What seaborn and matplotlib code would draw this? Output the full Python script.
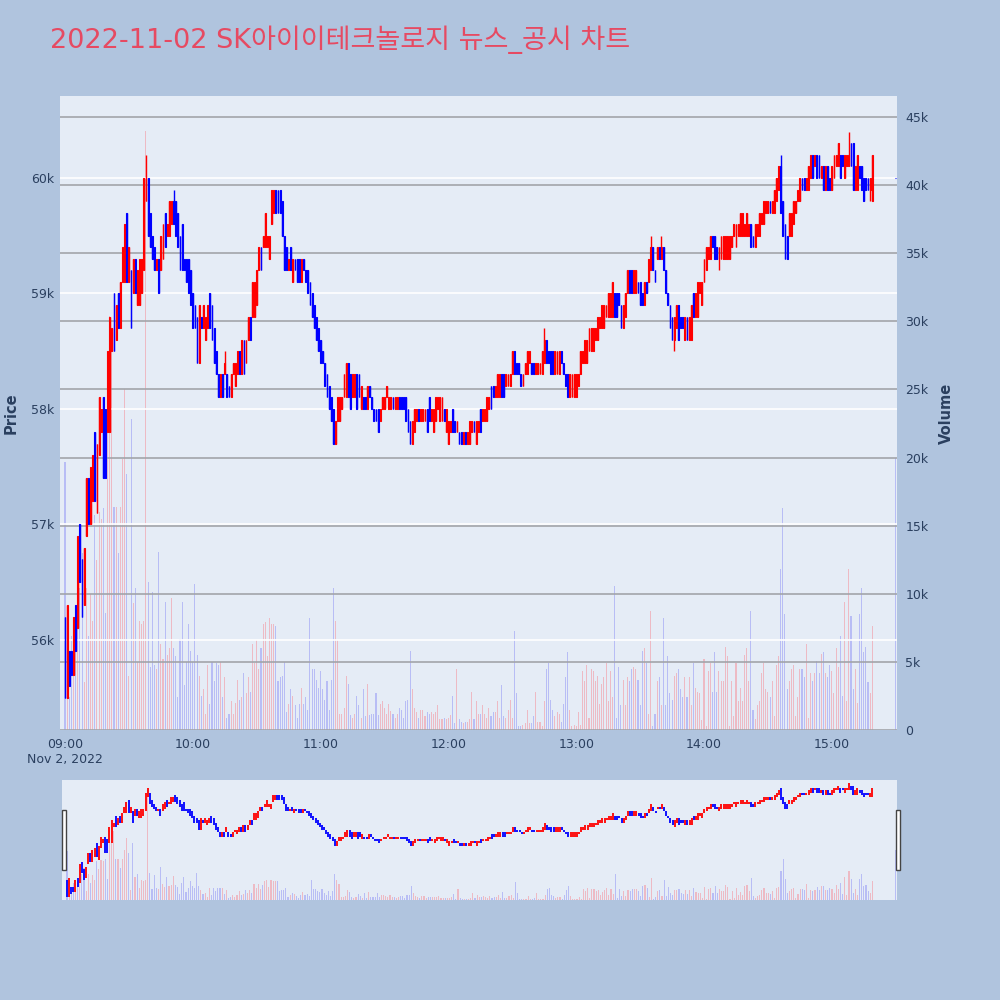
import numpy as np
import pandas as pd
import matplotlib
matplotlib.use("Agg")
import matplotlib.pyplot as plt
import matplotlib.patches as mpatches
import seaborn as sns

# ---------------- data (prices in units of 100 KRW, volume in thousands) ----------------
title_text = "2022-11-02 SK아이이테크놀로지 뉴스_공시 차트"
hour_labels = ["09:00\nNov 2, 2022", "10:00", "11:00", "12:00", "13:00", "14:00", "15:00"]
price_ticks_k = [56, 57, 58, 59, 60]
volume_ticks_k = [0, 5, 10, 15, 20, 25, 30, 35, 40, 45]

opens = [
    562,555,559,559,557,563,561,570,567,563,569,574,570,572,578,571,576,578,581,580,578,578,585,590,586,590,587,591,591,597,591,
    592,590,593,589,589,590,592,598,600,597,595,594,592,593,592,593,597,595,595,596,598,598,597,595,596,593,593,593,592,590,589,588,584,
    588,587,586,587,590,589,587,585,583,581,583,583,583,582,581,583,582,583,585,583,586,584,586,588,588,588,589,592,594,594,594,594,593,
    596,597,599,599,599,598,595,594,592,594,591,593,593,593,591,593,592,592,591,590,589,588,587,586,585,584,583,582,581,580,577,579,579,
    580,581,581,584,583,581,581,583,583,580,581,581,580,582,581,580,580,580,579,580,580,581,580,580,581,580,580,581,581,581,581,580,579,
    577,578,579,580,579,579,579,580,581,579,578,579,580,579,579,580,578,577,578,580,579,578,578,578,577,578,577,577,578,579,577,578,580,
    579,579,579,580,582,582,581,581,581,583,583,582,582,582,583,585,584,584,583,582,583,583,584,584,584,583,583,583,583,584,586,585,
    585,585,583,583,583,585,584,583,583,581,581,581,581,582,583,584,584,584,585,585,585,586,586,587,587,587,588,588,588,588,590,590,590,
    589,587,588,590,592,592,590,590,591,591,590,589,591,591,592,594,592,593,594,593,594,592,590,589,588,586,587,589,588,588,586,588,586,
    586,590,588,588,590,589,591,592,593,593,595,595,594,593,593,593,593,593,593,594,595,594,595,595,595,595,595,595,596,595,594,595,595,
    596,596,597,597,598,597,597,598,599,601,598,596,595,595,595,596,597,598,598,600,600,599,599,600,602,601,602,602,600,601,599,601,600,
    599,600,601,601,602,602,600,601,601,603,603,599,599,601,601,600,600,600,599,598,
    600,
]
closes = [
    555,563,556,557,562,559,569,565,562,568,574,570,575,576,572,577,581,580,574,574,585,588,587,585,589,587,591,594,596,591,594,
    587,593,590,592,593,593,600,600,595,594,593,592,593,590,595,596,594,596,598,598,596,595,594,592,592,592,591,590,589,587,587,584,589,
    587,589,588,589,587,586,584,583,581,583,581,584,581,581,583,584,584,585,583,586,583,586,588,586,591,591,592,594,592,595,597,595,595,
    599,599,597,597,597,595,592,592,593,592,593,592,591,591,593,592,591,590,589,588,587,586,585,584,584,582,581,580,579,577,579,581,581,
    581,583,584,581,580,583,583,580,581,582,580,580,582,581,580,579,579,578,580,581,581,582,581,581,580,581,581,580,580,580,579,578,577,
    579,580,580,579,580,580,580,578,579,580,580,581,581,581,581,579,580,579,579,578,578,579,577,577,578,577,578,579,579,578,579,579,578,
    580,580,581,581,580,581,582,583,583,581,581,583,583,583,585,583,583,583,582,583,584,585,585,583,583,584,584,584,585,586,584,584,
    583,583,585,585,585,584,583,582,581,583,583,583,583,583,585,585,586,586,587,587,587,587,588,588,589,589,589,590,590,591,588,588,589,
    587,589,590,592,590,590,592,592,590,589,589,591,590,593,594,592,591,594,593,594,592,590,589,587,586,588,589,586,587,587,588,586,588,
    589,588,590,591,591,591,593,594,594,595,594,593,593,594,595,595,595,595,595,595,596,596,596,597,597,596,597,596,594,594,596,596,597,
    597,598,598,598,597,598,599,600,601,597,595,593,593,597,597,598,598,599,600,599,599,600,601,602,600,602,600,600,601,599,601,599,599,
    601,602,602,603,600,601,602,602,602,601,599,601,602,600,599,598,599,599,600,602,
    600,
]
# wick extremes that reach beyond the candle bodies (minute index, price)
wick_high_minutes = [38, 51, 75, 225, 275, 280, 336, 363, 368]
wick_high_values = [602, 599, 585, 587, 595, 595, 602, 603, 604]
wick_low_minutes = [286, 307, 378]
wick_low_values = [585, 592, 598]

volumes_k = [
    19.7,3.0,2.4,6.9,4.2,7.8,8.4,10.4,13.0,3.5,10.4,6.9,10.0,8.0,15.8,12.5,16.0,15.5,16.3,8.6,22.7,30.4,27.8,16.4,16.4,13.0,16.4,19.9,25.0,18.8,4.0,
    22.8,9.3,10.4,5.0,8.0,7.8,8.0,44.0,10.9,4.6,10.1,4.8,4.5,13.1,6.3,5.2,9.4,5.5,6.0,9.7,6.0,5.4,2.4,6.7,9.4,3.3,5.0,7.8,5.8,5.0,10.7,5.5,4.0,
    2.5,3.0,1.2,4.8,1.9,5.0,3.6,4.9,4.8,5.0,2.4,3.9,0.9,1.2,2.1,1.2,2.0,3.7,2.2,2.4,4.2,2.7,3.9,2.8,6.3,4.9,6.6,4.5,6.0,7.8,7.9,5.4,8.2,
    7.8,7.8,7.6,3.6,3.9,4.0,5.0,1.3,1.9,3.0,2.5,1.8,0.9,1.9,3.1,1.9,2.4,1.5,8.2,4.5,4.5,3.7,3.1,4.3,3.0,2.2,3.6,1.5,3.7,10.4,8.0,6.6,1.2,
    1.2,1.6,4.0,3.4,1.1,0.9,1.2,2.5,1.8,0.9,3.0,1.0,3.4,1.1,1.2,1.2,2.7,1.1,1.9,2.1,1.6,1.2,1.9,1.4,1.2,0.9,1.2,1.6,1.5,0.9,2.1,2.2,5.8,
    3.0,1.6,1.3,0.9,1.5,1.5,1.0,1.3,1.2,1.3,1.2,1.3,1.8,0.8,0.8,0.9,0.8,0.9,1.1,2.5,0.5,4.5,0.8,0.6,0.5,0.6,0.6,0.8,2.8,0.8,2.1,1.2,1.2,
    1.8,1.2,0.9,1.6,1.0,1.3,1.3,2.1,0.9,3.3,1.0,0.9,1.5,2.2,0.9,7.3,2.7,0.3,0.3,0.4,0.5,1.5,0.5,0.5,1.0,2.8,0.6,0.6,0.3,2.1,4.5,4.9,
    2.2,1.5,1.0,1.3,1.2,0.6,1.9,3.9,5.7,1.5,0.3,0.4,0.3,1.3,0.4,4.3,3.6,4.8,0.9,4.5,4.3,3.6,4.0,1.9,3.4,3.9,4.9,2.1,4.3,2.4,10.6,0.9,4.6,
    1.8,3.7,1.8,3.9,3.6,4.5,4.6,4.5,3.7,1.8,5.8,6.0,4.9,1.2,8.7,0.3,1.2,3.6,3.9,1.8,8.2,1.8,5.4,2.7,2.2,4.0,4.2,4.5,3.0,2.4,3.9,2.4,3.9,
    1.8,4.9,3.1,2.8,2.7,0.7,5.2,0.3,4.3,4.9,2.8,5.7,2.8,4.3,3.6,3.6,6.1,5.4,0.3,3.6,1.0,4.9,2.1,3.1,2.1,5.5,6.0,3.6,8.7,1.5,0.8,1.8,2.1,
    4.2,4.9,3.0,2.8,2.4,3.6,1.0,4.8,5.4,11.8,16.3,8.5,3.0,3.6,4.5,4.8,1.0,2.4,4.5,4.5,3.9,6.3,0.9,4.2,3.6,4.2,5.1,4.2,5.6,5.7,4.2,3.9,4.8,
    4.3,2.7,6.0,4.6,6.9,2.5,9.4,2.1,11.8,8.4,3.0,4.5,2.0,8.5,10.4,5.7,6.1,3.5,2.7,7.6,
    20.0,
]

# minutes after 09:00 for each candle: continuous session 09:00-15:19, then closing auction 15:30
session_start = pd.Timestamp("2022-11-02 09:00")
times = list(pd.date_range(session_start, periods=380, freq="min")) + [pd.Timestamp("2022-11-02 15:30")]

# ---------------- build frame ----------------
minutes = np.array([(t - session_start).total_seconds() / 60 for t in times])
o = np.array(opens) * 100.0
c = np.array(closes) * 100.0
hi = np.maximum(o, c)
lo = np.minimum(o, c)
for m, v in zip(wick_high_minutes, wick_high_values):
    hi[m] = max(hi[m], v * 100.0)
for m, v in zip(wick_low_minutes, wick_low_values):
    lo[m] = min(lo[m], v * 100.0)
direction = np.where(c > o, "up", "down")
df = pd.DataFrame({"minute": minutes, "open": o, "close": c, "high": hi, "low": lo,
                   "volume": np.array(volumes_k) * 1000.0, "dir": direction})
body_bottom = np.minimum(o, c)
body_height = np.maximum(o, c) - body_bottom

# ---------------- style ----------------
sns.set_theme(style="white")
plt.rcParams["font.family"] = ["DejaVu Sans", "Noto Sans CJK KR"]
FIG_BG = "#B0C4DE"
PLOT_BG = "#E5ECF6"
TXT = "#2a3f5f"
RED = "#FF0000"
BLUE = "#0000FF"
VOL_COLORS = {"up": "#EDBAC4", "down": "#B8BDF5"}

fig = plt.figure(figsize=(10, 10), dpi=100, facecolor=FIG_BG)

xlim = (-2.35, 390.6)

# ---------------- main panel ----------------
ax_vol = fig.add_axes([0.060, 0.270, 0.837, 0.634])
ax_vol.set_facecolor(PLOT_BG)
sns.barplot(data=df, x="minute", y="volume", hue="dir", palette=VOL_COLORS,
            native_scale=True, dodge=False, errorbar=None, legend=False,
            width=0.5, linewidth=0, saturation=1, ax=ax_vol)
ax_vol.set_xlim(*xlim)
ax_vol.set_ylim(0, 46540)
ax_vol.set_axisbelow(False)
ax_vol.grid(axis="y", color="#A2A4AA", linewidth=1.2)
ax_vol.grid(axis="x", visible=False)
ax_vol.set_xlabel("")
ax_vol.set_ylabel("")
for s in ax_vol.spines.values():
    s.set_visible(False)

ax_p = ax_vol.twinx()
ax_p.patch.set_visible(False)
ax_p.set_ylim(55220, 60710)
ax_p.set_xlim(*xlim)
ax_p.set_yticks([v * 1000 for v in price_ticks_k])
ax_p.set_yticklabels([f"{v}k" for v in price_ticks_k])
ax_p.grid(axis="y", color="white", linewidth=1.2)
ax_p.grid(axis="x", visible=False)
for s in ax_p.spines.values():
    s.set_visible(False)

# volume ticks on the right, price ticks on the left (set after twinx)
ax_vol.yaxis.tick_right()
ax_vol.yaxis.set_label_position("right")
ax_vol.set_yticks([v * 1000 for v in volume_ticks_k])
ax_vol.set_yticklabels(["0" if v == 0 else f"{v}k" for v in volume_ticks_k])
ax_vol.tick_params(axis="y", which="both", left=False, right=False, labelleft=False,
                   labelright=True, length=0, pad=6, labelsize=9, labelcolor=TXT)
ax_vol.tick_params(axis="x", length=0, pad=6, labelsize=9, labelcolor=TXT)
ax_vol.set_xticks([60 * i for i in range(len(hour_labels))])
ax_vol.set_xticklabels(hour_labels)
ax_p.yaxis.tick_left()
ax_p.tick_params(axis="y", left=False, right=False, labelleft=True, labelright=False,
                 length=0, pad=4, labelsize=9, labelcolor=TXT)

cols = np.where(df["dir"] == "up", RED, BLUE)
ax_p.vlines(df["minute"], df["low"], df["high"], colors=cols, linewidth=1.0, zorder=3)
ax_p.bar(df["minute"], body_height, bottom=body_bottom, width=0.4,
         color=cols, edgecolor=cols, linewidth=0.8, zorder=4)

fig.text(0.011, 0.587, "Price", rotation=90, ha="center", va="center",
         color=TXT, fontsize=10.5, fontweight="bold")
fig.text(0.946, 0.587, "Volume", rotation=90, ha="center", va="center",
         color=TXT, fontsize=10.5, fontweight="bold")

fig.text(0.050, 0.960, title_text, ha="left", va="center", color="#E64A62", fontsize=19.5)

# ---------------- range slider ----------------
ax_s = fig.add_axes([0.062, 0.100, 0.835, 0.120])
ax_s.set_facecolor(PLOT_BG)
sns.barplot(data=df, x="minute", y="volume", hue="dir", palette=VOL_COLORS,
            native_scale=True, dodge=False, errorbar=None, legend=False,
            width=0.5, linewidth=0, saturation=1, ax=ax_s)
ax_s.set_xlim(*xlim)
ax_s.set_ylim(0, 48000)
ax_s.set_xticks([])
ax_s.set_yticks([])
ax_s.set_xlabel("")
ax_s.set_ylabel("")
for s in ax_s.spines.values():
    s.set_visible(False)
ax_s2 = ax_s.twinx()
ax_s2.patch.set_visible(False)
ax_s2.set_xlim(*xlim)
ax_s2.set_ylim(55350, 60550)
ax_s2.set_yticks([])
for s in ax_s2.spines.values():
    s.set_visible(False)
ax_s2.vlines(df["minute"], df["low"], df["high"], colors=cols, linewidth=1.3)

for xh in (0.0615, 0.8955):
    fig.patches.append(mpatches.Rectangle((xh, 0.130), 0.0045, 0.060, transform=fig.transFigure,
                                          facecolor="white", edgecolor="#444444", linewidth=1.0))

fig.savefig("out.png", dpi=100, facecolor=FIG_BG)
